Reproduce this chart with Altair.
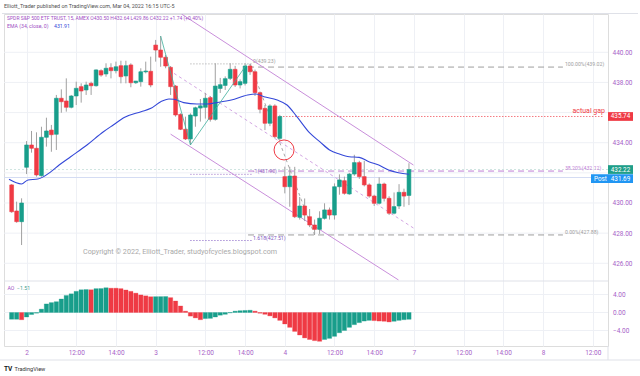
import altair as alt
import pandas as pd

# ---------------- data ----------------
opens = [431.20, 429.47, 428.76, 432.37, 433.85, 433.63, 431.81, 434.36, 434.84, 434.56,
         436.95, 436.77, 436.35, 437.10, 437.72, 437.50, 437.94, 437.78, 438.78, 438.56,
         438.98, 438.78, 439.11, 438.43, 439.16, 437.98, 438.05, 438.70, 438.74, 440.48,
         440.15, 439.67, 439.00, 437.76, 435.88, 434.89, 434.25, 435.77, 436.30, 436.35,
         436.99, 435.55, 437.60, 437.80, 438.27, 438.87, 437.83, 437.94, 439.09, 438.71,
         437.32, 436.28, 435.29, 436.44, 434.29, 431.75, 431.08, 431.79, 429.05, 429.80,
         429.09, 428.54, 428.25, 428.98, 429.54, 429.20, 431.08, 431.48, 430.60, 431.92,
         432.68, 431.75, 431.20, 430.46, 429.98, 431.26, 430.31, 429.32, 429.80, 430.71,
         430.50]
highs = [431.25, 430.09, 430.31, 434.11, 434.78, 434.69, 435.06, 435.66, 435.18, 437.17,
         437.54, 438.27, 437.17, 438.05, 437.94, 438.05, 438.05, 438.87, 438.87, 439.27,
         439.27, 439.38, 439.44, 439.44, 439.27, 438.10, 438.94, 439.38, 439.71, 440.82,
         441.08, 439.82, 439.09, 437.83, 435.95, 435.73, 435.95, 436.39, 436.90, 437.30,
         437.10, 439.27, 438.30, 438.40, 439.27, 439.10, 438.20, 439.27, 439.23, 438.85,
         437.40, 436.50, 436.55, 436.55, 435.85, 432.41, 432.40, 432.40, 430.40, 430.30,
         429.60, 428.90, 429.45, 429.98, 429.70, 431.30, 431.90, 431.75, 432.00, 433.20,
         432.80, 432.80, 431.30, 430.55, 431.70, 431.35, 430.45, 430.70, 431.25, 430.95,
         432.64]
lows = [429.35, 428.69, 427.21, 431.92, 433.34, 431.75, 431.75, 433.74, 433.40, 433.52,
        435.99, 436.06, 436.28, 436.50, 436.66, 437.17, 437.17, 437.72, 438.38, 438.38,
        438.27, 438.60, 437.94, 437.94, 437.68, 437.90, 437.72, 438.60, 437.68, 439.38,
        439.04, 438.94, 437.17, 435.73, 434.84, 434.18, 433.85, 435.06, 435.40, 435.60,
        435.40, 435.46, 437.30, 437.50, 438.16, 437.70, 437.60, 437.80, 438.50, 437.10,
        435.95, 434.84, 435.10, 434.29, 434.10, 430.64, 429.75, 429.00, 428.90, 428.80,
        428.40, 427.88, 427.95, 428.90, 428.90, 428.90, 430.55, 430.55, 430.55, 431.80,
        431.60, 431.10, 430.35, 429.80, 429.90, 430.10, 429.20, 429.25, 429.60, 429.75,
        429.86]
closes = [429.42, 428.76, 430.00, 433.85, 433.63, 431.86, 434.36, 434.78, 434.53, 436.95,
          436.72, 436.35, 437.10, 437.61, 437.43, 437.83, 437.78, 438.83, 438.49, 438.94,
          438.78, 439.04, 438.38, 439.11, 437.98, 438.09, 438.71, 438.76, 437.83, 440.15,
          439.67, 439.09, 437.72, 435.84, 434.89, 434.25, 435.84, 436.32, 436.45, 436.95,
          435.55, 437.76, 437.85, 438.25, 438.87, 437.83, 438.05, 439.09, 438.71, 437.32,
          436.22, 435.29, 436.44, 434.40, 435.74, 431.08, 431.79, 429.09, 429.80, 429.20,
          428.54, 428.25, 428.99, 429.54, 429.20, 431.08, 431.53, 430.64, 431.92, 432.68,
          431.75, 431.20, 430.46, 429.98, 431.26, 430.31, 429.32, 429.76, 430.71, 430.46,
          432.22]

ao_vals = [-1.50, -1.50, -1.60, -1.00, -0.45, -0.15, 0.75, 1.90, 2.20, 2.40,
           3.00, 3.80, 4.15, 4.70, 5.05, 5.10, 5.05, 5.30, 5.32, 5.50,
           5.40, 5.40, 5.30, 5.00, 4.70, 4.30, 3.90, 3.70, 3.50, 3.52,
           3.53, 3.55, 3.30, 2.55, 1.45, 0.30, -0.80, -1.20, -1.60, -1.35,
           -1.30, -1.00, -0.60, -0.40, -0.10, 0.30, 0.40, 0.45, 0.50, 0.30,
           -0.15, -0.40, -0.75, -1.20, -1.75, -2.55, -3.30, -4.20, -5.00, -5.65,
           -6.00, -6.25, -6.40, -6.00, -5.75, -5.30, -4.50, -4.00, -3.30, -2.70,
           -2.25, -1.90, -1.75, -1.80, -1.90, -1.95, -2.10, -1.95, -1.75, -1.60,
           -1.51]
ao_cols = list("ggr" + "g" * 13 + "r" + "ggg" + "r" * 9 + "ggg" + "r" * 7
               + "g" * 10 + "r" * 14 + "g" * 10 + "r" * 4 + "g" * 4)

ema_idx = [-0.53, 1.98, 3.29, 5.27, 7.92, 9.56, 11.88, 15.17, 18.48, 20.46, 22.77,
           26.06, 28.04, 30.02, 31.68, 32.67, 34.65, 37.29, 39.27, 41.25, 44.22,
           47.52, 49.17, 50.81, 53.47, 55.45, 57.43, 60.06, 62.04, 64.02, 66.0,
           67.98, 69.96, 71.94, 73.92, 75.9, 77.88, 80.0]
ema_val = [431.57, 431.26, 431.53, 431.59, 432.08, 432.52, 433.07, 433.85, 434.73,
           435.18, 435.69, 436.06, 436.28, 436.72, 436.90, 436.88, 436.66, 436.57,
           436.57, 436.66, 436.83, 437.17, 437.23, 437.05, 436.83, 436.50, 435.73,
           434.63, 434.07, 433.52, 433.25, 433.07, 433.03, 432.74, 432.52, 432.19,
           432.01, 431.91]

tick_idx = [3, 13, 21, 29, 39, 47, 55, 65, 73, 81, 91, 99, 107, 117]
tick_lbl = ["2", "12:00", "14:00", "3", "12:00", "14:00", "4", "12:00", "14:00",
            "7", "12:00", "14:00", "8", "12:00"]
price_ticks = [426, 428, 430, 434, 438, 440]
price_grid = [426, 428, 430, 432, 434, 436, 438, 440]
ao_ticks = [4, 0, -4]
ao_tick_lbl = ["4.00", "0.00", "\u22124.00"]

# drawings
chan_solid_i = [34.2, 32.0]
chan_solid_p = [442.54, 434.57]
chan_solid_i2 = [80.9, 77.9]
chan_solid_p2 = [432.52, 424.89]
chan_mid = [(32.7, 438.6), (80.9, 428.34)]
zig_i = [30, 36, 47.3]
zig_p = [441.08, 433.85, 439.18]
fib_trend = [(48, 439.23), (61, 427.88)]
rfib_vals = [439.02, 432.12, 427.88]
rfib_lbls = ["100.00%(439.02)", "38.20%(432.12)", "0.00%(427.88)"]
rfib_cols = ["#9e9e9e", "#c07fd6", "#9e9e9e"]
lfib_vals = [439.23, 431.90, 427.51]
lfib_lbls = ["0(439.23)", "-1(431.90)", "1.618(427.51)"]
lfib_cols = ["#9e9e9e", "#9c6fc6", "#7e57c2"]
gap_val = 435.74
circle_i, circle_p = 54.85, 433.52
last_price, post_price = 432.22, 431.69

# ---------------- style ----------------
GREEN, RED, WICK = "#189e8b", "#ef3a44", "#a0a0a0"
AOG, AOR = "#0a7b61", "#e01f26"
PURP = "#a75fc8"
GRID = "#eef0f5"
BORDER = "#dfe1e8"
FONT = "Roboto"

xscale = alt.Scale(domain=[-0.535, 119.07], nice=False, zero=False)
pscale = alt.Scale(domain=[420.511, 442.541], nice=False, zero=False)
ascale = alt.Scale(domain=[-7.444, 66.333], nice=False, zero=False)

label_expr = ("[" + ",".join("'%s'" % t for t in tick_lbl) + "][indexof(["
              + ",".join(str(t) for t in tick_idx) + "], datum.value)]")
xaxis = alt.Axis(values=tick_idx, labelExpr=label_expr, grid=True, gridColor=GRID,
                 domain=False, ticks=False, labelPadding=3, labelFontSize=6.5,
                 labelColor=PURP, labelFont=FONT, title=None, labelOverlap=False,
                 labelFlush=False)
paxis = alt.Axis(orient="right", values=price_ticks, format=".2f", grid=False,
                 domain=False, ticks=False, labelPadding=4, labelFontSize=6.5,
                 labelColor=PURP, labelFont=FONT, title=None, labelOverlap=False)


def X(field="i"):
    return alt.X(f"{field}:Q", scale=xscale, axis=xaxis)


def YP(field, axis=None):
    return alt.Y(f"{field}:Q", scale=pscale, axis=axis)


def YA(field):
    return alt.Y(f"{field}:Q", scale=ascale, axis=None)


n = len(closes)
cdf = pd.DataFrame({"i": list(range(n)), "o": opens, "h": highs, "l": lows, "c": closes})
cdf["d"] = ["u" if c >= o else "d" for o, c in zip(opens, closes)]
dir_scale = alt.Scale(domain=["u", "d"], range=[GREEN, RED])

layers = []

# grid rules
layers.append(alt.Chart(pd.DataFrame({"p": price_grid})).mark_rule(color=GRID, strokeWidth=1)
              .encode(y=YP("p")))
layers.append(alt.Chart(pd.DataFrame({"v": ao_ticks})).mark_rule(color=GRID, strokeWidth=1)
              .encode(y=YA("v")))

# faint price lines
layers.append(alt.Chart(pd.DataFrame({"p": [last_price]})).mark_rule(color="#cfe5e1", strokeWidth=1, strokeDash=[2, 2])
              .encode(y=YP("p")))
layers.append(alt.Chart(pd.DataFrame({"p": [post_price]})).mark_rule(color="#d4dcf3", strokeWidth=1)
              .encode(y=YP("p")))

# actual gap line
layers.append(alt.Chart(pd.DataFrame({"i": [54.1], "i2": [119.07], "p": [gap_val]}))
              .mark_rule(color=RED, strokeWidth=1, strokeDash=[1, 2])
              .encode(x=X(), x2="i2:Q", y=YP("p")))

# right fib retracement
rfib = pd.DataFrame({"i": [47.6] * 3, "i2": [111.0] * 3, "p": rfib_vals, "t": rfib_lbls, "col": rfib_cols})
layers.append(alt.Chart(rfib).mark_rule(strokeWidth=1, strokeDash=[6, 4])
              .encode(x=X(), x2="i2:Q", y=YP("p"), color=alt.Color("col:N", scale=None)))
layers.append(alt.Chart(rfib).mark_text(align="left", dx=2, dy=-3, fontSize=5.2, font=FONT)
              .encode(x=X("i2"), y=YP("p"), text="t:N", color=alt.Color("col:N", scale=None)))

# left fib extension
lfib = pd.DataFrame({"i": [36.0] * 3, "i2": [48.4] * 3, "p": lfib_vals, "t": lfib_lbls, "col": lfib_cols})
layers.append(alt.Chart(lfib).mark_rule(strokeWidth=1, strokeDash=[1, 2])
              .encode(x=X(), x2="i2:Q", y=YP("p"), color=alt.Color("col:N", scale=None)))
layers.append(alt.Chart(lfib).mark_text(align="left", dx=1, dy=-3, fontSize=5.2, font=FONT)
              .encode(x=X("i2"), y=YP("p"), text="t:N", color=alt.Color("col:N", scale=None)))

# channel
chs = pd.DataFrame({"i": chan_solid_i, "p": chan_solid_p, "i2": chan_solid_i2, "p2": chan_solid_p2})
layers.append(alt.Chart(chs).mark_rule(color="#c98fdb", strokeWidth=1, clip=True)
              .encode(x=X(), x2="i2:Q", y=YP("p"), y2="p2:Q"))
chm = pd.DataFrame({"i": [chan_mid[0][0]], "p": [chan_mid[0][1]], "i2": [chan_mid[1][0]], "p2": [chan_mid[1][1]]})
layers.append(alt.Chart(chm).mark_rule(color="#d3a6e3", strokeWidth=1, strokeDash=[3, 3], clip=True)
              .encode(x=X(), x2="i2:Q", y=YP("p"), y2="p2:Q"))

# fib trend dashed
ft = pd.DataFrame({"i": [fib_trend[0][0]], "p": [fib_trend[0][1]], "i2": [fib_trend[1][0]], "p2": [fib_trend[1][1]]})
layers.append(alt.Chart(ft).mark_rule(color="#a8a8a8", strokeWidth=1, strokeDash=[3, 3])
              .encode(x=X(), x2="i2:Q", y=YP("p"), y2="p2:Q"))

# candles
layers.append(alt.Chart(cdf).mark_rule(color=WICK, strokeWidth=1)
              .encode(x=X(), y=YP("l"), y2="h:Q"))
layers.append(alt.Chart(cdf).mark_bar(size=3.8, strokeWidth=0.6)
              .encode(x=X(), y=YP("o", axis=paxis), y2="c:Q",
                      color=alt.Color("d:N", scale=dir_scale, legend=None),
                      stroke=alt.Stroke("d:N", scale=dir_scale, legend=None)))

# EMA
edf = pd.DataFrame({"i": ema_idx, "v": ema_val})
layers.append(alt.Chart(edf).mark_line(color="#3448d8", strokeWidth=1.1, interpolate="monotone", clip=True)
              .encode(x=X(), y=YP("v")))

# zigzag
zdf = pd.DataFrame({"i": zig_i, "p": zig_p})
layers.append(alt.Chart(zdf).mark_line(color="#3fae9c", strokeWidth=0.8)
              .encode(x=X(), y=YP("p")))

# red circle
layers.append(alt.Chart(pd.DataFrame({"i": [circle_i], "p": [circle_p]}))
              .mark_point(shape="circle", size=400, filled=False, color=RED, strokeWidth=1, opacity=1)
              .encode(x=X(), y=YP("p")))

# actual gap label
layers.append(alt.Chart(pd.DataFrame({"t": ["actual gap"], "p": [gap_val]}))
              .mark_text(align="right", dy=-5, fontSize=7, font=FONT, color=RED)
              .encode(x=alt.value(601), y=YP("p"), text="t:N"))

# AO
adf = pd.DataFrame({"i": list(range(n)), "v": ao_vals, "col": ao_cols})
layers.append(alt.Chart(adf).mark_bar(size=4.3, strokeWidth=0.5, strokeOpacity=0.6)
              .encode(x=X(), y=YA("v"), y2=alt.datum(0),
                      color=alt.Color("col:N", scale=alt.Scale(domain=["g", "r"], range=[AOG, AOR]), legend=None),
                      stroke=alt.Stroke("col:N", scale=alt.Scale(domain=["g", "r"], range=["#9fd3c7", "#f6a9ad"]), legend=None)))
layers.append(alt.Chart(pd.DataFrame({"v": ao_ticks, "t": ao_tick_lbl}))
              .mark_text(align="left", fontSize=6.5, font=FONT, color=PURP)
              .encode(x=alt.value(609), y=YA("v"), text="t:N"))

# pane separators / frame
layers.append(alt.Chart(pd.DataFrame({"a": [0]})).mark_rule(color=BORDER, strokeWidth=1)
              .encode(x=alt.value(0), x2=alt.value(604), y=alt.value(267)))
layers.append(alt.Chart(pd.DataFrame({"a": [0]})).mark_rule(color=BORDER, strokeWidth=1)
              .encode(x=alt.value(-4), x2=alt.value(636), y=alt.value(346)))
layers.append(alt.Chart(pd.DataFrame({"a": [0]})).mark_rule(color=BORDER, strokeWidth=1)
              .encode(x=alt.value(604), y=alt.value(332), y2=alt.value(346)))
layers.append(alt.Chart(pd.DataFrame({"a": [0]})).mark_rule(color=BORDER, strokeWidth=1)
              .encode(x=alt.value(-2), x2=alt.value(634), y=alt.value(-0.5)))

# price boxes on right axis
boxes = pd.DataFrame({"p": [gap_val, last_price], "col": [RED, "#1f9e89"],
                      "t": ["435.74", "432.22"]})
layers.append(alt.Chart(boxes).transform_calculate(lo="datum.p - 0.29", hi="datum.p + 0.29")
              .mark_rect().encode(x=alt.value(604), x2=alt.value(629), y=YP("lo"), y2="hi:Q",
                                  color=alt.Color("col:N", scale=None)))
layers.append(alt.Chart(boxes).mark_text(fontSize=6.3, font=FONT, color="white", align="center")
              .encode(x=alt.value(616.5), y=YP("p"), text="t:N"))
post = pd.DataFrame({"p": [post_price], "t": ["431.69"], "k": ["Post"]})
layers.append(alt.Chart(post).transform_calculate(lo="datum.p - 0.36", hi="datum.p + 0.22")
              .mark_rect(color="#2196f3").encode(x=alt.value(587), x2=alt.value(629), y=YP("lo"), y2="hi:Q"))
layers.append(alt.Chart(post).transform_calculate(m="datum.p - 0.07")
              .mark_text(fontSize=6.3, font=FONT, color="white", align="center")
              .encode(x=alt.value(616.5), y=YP("m"), text="t:N"))
layers.append(alt.Chart(post).transform_calculate(m="datum.p - 0.07")
              .mark_text(fontSize=6.3, font=FONT, color="white", align="left")
              .encode(x=alt.value(590), y=YP("m"), text="k:N"))

# header / legend texts
def txt(t, x, y, size, color, align="left", weight="normal"):
    return (alt.Chart(pd.DataFrame({"t": [t]}))
            .mark_text(align=align, fontSize=size, font=FONT, color=color, fontWeight=weight)
            .encode(x=alt.value(x), y=alt.value(y), text="t:N"))


layers.append(txt("Elliott_Trader published on TradingView.com, Mar 04, 2022 16:15 UTC-5", 0, -8, 5.4, "#505050"))
layers.append(txt("SPDR S&P 500 ETF TRUST, 15, AMEX  O430.50  H432.64  L429.86  C432.22  +1.74 (+0.40%)",
                  3, 4.3, 5.0, "#a050c4"))
layers.append(txt("EMA (34, close, 0)", 3, 11.7, 5.2, "#a050c4"))
layers.append(txt("431.91", 50, 11.7, 5.2, "#3448d8"))
layers.append(txt("Copyright \u00a9 2022, Elliott_Trader, studyofcycles.blogspot.com", 176, 238, 7.2,
                  "#a9a9a9", align="center"))
layers.append(txt("AO", 3.5, 273.5, 5.2, "#a050c4"))
layers.append(txt("\u22121.51", 13, 273.5, 5.2, "#3f9e8e"))
layers.append(txt("TV", 0, 354.5, 6.5, "#131722", weight="bold"))
layers.append(txt("TradingView", 10.5, 354.5, 5.6, "#333333"))

chart = (alt.layer(*layers)
         .resolve_scale(y="independent")
         .properties(width=604, height=332,
                     padding={"left": 4, "top": 14, "right": 32, "bottom": 30},
                     autosize=alt.AutoSizeParams(type="none"))
         .configure_view(stroke=BORDER, strokeWidth=1)
         .configure(background="white"))

chart.save("out.html", embed_options={"renderer": "svg", "actions": False})
